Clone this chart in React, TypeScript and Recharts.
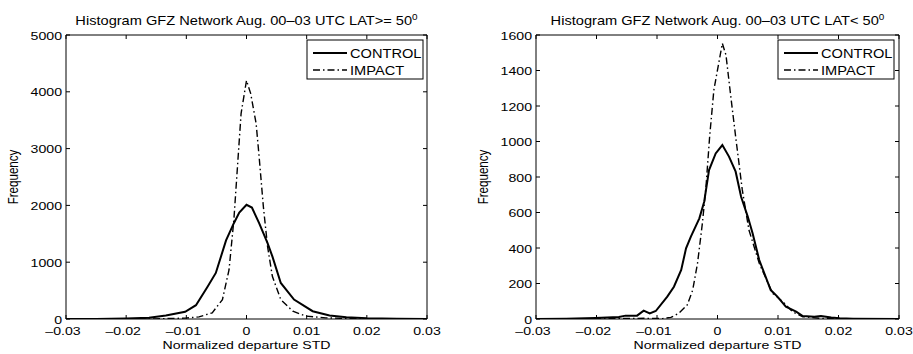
import React from 'react';
import { LineChart, Line, XAxis, YAxis, ReferenceArea } from 'recharts';

const FONT = '"Liberation Sans", Arial, Helvetica, sans-serif';

// ---- tick values / labels ----
const xTicks = [-0.03, -0.02, -0.01, 0, 0.01, 0.02, 0.03];
const xTickLabels = ['\u20130.03', '\u20130.02', '\u20130.01', '0', '0.01', '0.02', '0.03'];
const yTicksLeft = [0, 1000, 2000, 3000, 4000, 5000];
const yTicksRight = [0, 200, 400, 600, 800, 1000, 1200, 1400, 1600];

// ---- left panel (LAT >= 50) ----
const leftControlX = [-0.03, -0.025, -0.02, -0.0162, -0.0134, -0.0102, -0.0084, -0.0065, -0.0051, -0.0034, -0.0021, -0.0012, 0, 0.0009, 0.0021, 0.0035, 0.0043, 0.0057, 0.0079, 0.011, 0.0138, 0.0166, 0.02, 0.025, 0.03];
const leftControlY = [0, 2, 8, 20, 61, 126, 243, 564, 811, 1383, 1687, 1874, 2010, 1962, 1687, 1336, 1102, 635, 342, 137, 61, 32, 15, 4, 0];
const leftImpactX = [-0.03, -0.02, -0.015, -0.0102, -0.0079, -0.0057, -0.004, -0.0029, -0.0021, -0.0015, -0.0009, 0, 0.0007, 0.0016, 0.0021, 0.0028, 0.0035, 0.0043, 0.0057, 0.0077, 0.0099, 0.0132, 0.0166, 0.02, 0.03];
const leftImpactY = [0, 1, 3, 15, 38, 108, 342, 868, 1746, 2681, 3617, 4200, 3968, 3441, 2856, 1980, 1278, 751, 342, 137, 50, 20, 9, 3, 0];

// ---- right panel (LAT < 50) ----
const rightControlX = [-0.03, -0.025, -0.0202, -0.0163, -0.0152, -0.0133, -0.0122, -0.0112, -0.0102, -0.0083, -0.0072, -0.006, -0.0052, -0.0044, -0.003, -0.0022, -0.0014, -0.0003, 0.0008, 0.0019, 0.003, 0.0039, 0.005, 0.0058, 0.0069, 0.0088, 0.0099, 0.0113, 0.013, 0.0141, 0.016, 0.0171, 0.0188, 0.0202, 0.0224, 0.03];
const rightControlY = [0, 2, 6, 11, 19, 19, 47, 32, 45, 126, 182, 276, 398, 464, 567, 661, 839, 933, 980, 915, 830, 689, 577, 483, 332, 163, 126, 69, 41, 17, 13, 17, 9, 4, 2, 0];
const rightImpactX = [-0.03, -0.0119, -0.0091, -0.0077, -0.0064, -0.005, -0.0041, -0.0033, -0.0025, -0.0019, -0.0013, -0.0006, 0.0003, 0.0008, 0.0014, 0.0022, 0.003, 0.0041, 0.0052, 0.0069, 0.0091, 0.0108, 0.0124, 0.0141, 0.0169, 0.022, 0.03];
const rightImpactY = [0, 4, 2, 9, 32, 79, 163, 314, 539, 746, 1027, 1290, 1459, 1553, 1487, 1253, 1027, 727, 501, 314, 145, 98, 41, 13, 4, 0, 0];

const seriesNames = ['CONTROL', 'IMPACT'];
const titles = [
  'Histogram GFZ Network Aug. 00\u201303 UTC LAT>= 50',
  'Histogram GFZ Network Aug. 00\u201303 UTC LAT< 50',
];
const xLabel = 'Normalized departure STD';
const yLabel = 'Frequency';

const zip = (xs: number[], ys: number[]) => xs.map((x, i) => ({ x, y: ys[i] }));

const IMPACT_DASH = '7 3 1.5 3';

type STextProps = {
  x: number; y: number; anchor?: 'start' | 'middle' | 'end'; size: number; sx: number;
  rotate?: boolean; children: React.ReactNode; baseline?: string;
};
const SText = ({ x, y, anchor = 'middle', size, sx, rotate, children, baseline }: STextProps) => (
  <text
    transform={`translate(${x},${y}) scale(${sx},1)${rotate ? ' rotate(-90)' : ''}`}
    textAnchor={anchor}
    fontSize={size}
    fontFamily={FONT}
    fill="#000"
    dominantBaseline={baseline as any}
  >
    {children}
  </text>
);

const TICK_SIZE = 11.3;
const TICK_SX = 1.25;

type PanelProps = {
  left: number; width: number; L: number; R: number; T: number; B: number;
  control: { x: number; y: number }[]; impact: { x: number; y: number }[];
  yTicks: number[]; yMax: number;
};

const Panel = ({ left, width, L, R, T, B, control, impact, yTicks, yMax }: PanelProps) => {
  const height = 354;
  const plotRight = R - left;
  const xTick = (p: any) => {
    const { x, y, payload } = p;
    const i = xTicks.indexOf(payload.value);
    const lab = i >= 0 ? xTickLabels[i] : String(payload.value);
    const neg = payload.value < 0;
    return (
      <g>
        <line x1={x} y1={y} x2={x} y2={y - 4} stroke="#000" strokeWidth={1} />
        <line x1={x} y1={T} x2={x} y2={T + 4} stroke="#000" strokeWidth={1} />
        <SText x={x + (neg ? -3 : 0)} y={y + 16} size={TICK_SIZE} sx={TICK_SX}>{lab}</SText>
      </g>
    );
  };
  const yTick = (p: any) => {
    const { x, y, payload } = p;
    return (
      <g>
        <line x1={x} y1={y} x2={x + 4} y2={y} stroke="#000" strokeWidth={1} />
        <line x1={plotRight} y1={y} x2={plotRight - 4} y2={y} stroke="#000" strokeWidth={1} />
        <SText x={x - 4} y={y + 4.5} anchor="end" size={TICK_SIZE} sx={TICK_SX}>{String(payload.value)}</SText>
      </g>
    );
  };
  return (
    <div style={{ position: 'absolute', left, top: 0, width, height }}>
      <LineChart
        width={width}
        height={height}
        margin={{ top: T, right: left + width - R, bottom: 0, left: 0 }}
      >
        <XAxis
          dataKey="x"
          type="number"
          domain={[-0.03, 0.03]}
          ticks={xTicks}
          interval={0}
          allowDataOverflow
          axisLine={false}
          tickLine={false}
          tickSize={0}
          tickMargin={0}
          height={height - B}
          tick={xTick}
        />
        <YAxis
          type="number"
          domain={[0, yMax]}
          ticks={yTicks}
          interval={0}
          allowDataOverflow
          axisLine={false}
          tickLine={false}
          tickSize={0}
          tickMargin={0}
          width={L - left}
          tick={yTick}
        />
        <Line data={control} dataKey="y" type="linear" stroke="#000" strokeWidth={2} dot={false} isAnimationActive={false} name={seriesNames[0]} />
        <Line data={impact} dataKey="y" type="linear" stroke="#000" strokeWidth={1.4} strokeDasharray={IMPACT_DASH} dot={false} isAnimationActive={false} name={seriesNames[1]} />
        <ReferenceArea x1={-0.03} x2={0.03} y1={0} y2={yMax} fill="none" stroke="#000" strokeWidth={1} ifOverflow="visible" />
      </LineChart>
    </div>
  );
};

const Legend = ({ bx, by }: { bx: number; by: number }) => (
  <g>
    <rect x={bx} y={by} width={116} height={39} fill="#fff" stroke="#000" strokeWidth={1} />
    <line x1={bx + 6} y1={by + 13} x2={bx + 40} y2={by + 13} stroke="#000" strokeWidth={2} />
    <line x1={bx + 6} y1={by + 30} x2={bx + 40} y2={by + 30} stroke="#000" strokeWidth={1.4} strokeDasharray={IMPACT_DASH} />
    <SText x={bx + 43} y={by + 17.5} anchor="start" size={12.5} sx={1.17}>{seriesNames[0]}</SText>
    <SText x={bx + 43} y={by + 34.5} anchor="start" size={12.5} sx={1.17}>{seriesNames[1]}</SText>
  </g>
);

const Title = ({ cx, text }: { cx: number; text: string }) => (
  <text
    transform={`translate(${cx},25) scale(1.17,1)`}
    textAnchor="middle"
    fontSize={12.5}
    fontFamily={FONT}
    fill="#000"
  >
    <tspan>{text}</tspan>
    <tspan dy={-5} fontSize={8.5}>0</tspan>
  </text>
);

export default function App() {
  const leftControl = zip(leftControlX, leftControlY);
  const leftImpact = zip(leftImpactX, leftImpactY);
  const rightControl = zip(rightControlX, rightControlY);
  const rightImpact = zip(rightImpactX, rightImpactY);
  return (
    <div style={{ position: 'absolute', left: 0, top: 0, width: 913, height: 354, background: '#fff', overflow: 'hidden' }}>
      <Panel left={0} width={456} L={66} R={427} T={35} B={319} control={leftControl} impact={leftImpact} yTicks={yTicksLeft} yMax={5000} />
      <Panel left={456} width={457} L={536} R={899} T={35} B={319} control={rightControl} impact={rightImpact} yTicks={yTicksRight} yMax={1600} />
      <svg width={913} height={354} style={{ position: 'absolute', left: 0, top: 0, pointerEvents: 'none' }}>
        <Title cx={246.5} text={titles[0]} />
        <Title cx={717.5} text={titles[1]} />
        <SText x={246.5} y={349} size={11.3} sx={1.25}>{xLabel}</SText>
        <SText x={717.5} y={349} size={11.3} sx={1.25}>{xLabel}</SText>
        <SText x={17.5} y={177} size={11.6} sx={1.2} rotate>{yLabel}</SText>
        <SText x={487.5} y={177} size={11.6} sx={1.2} rotate>{yLabel}</SText>
        <Legend bx={307} by={40} />
        <Legend bx={778} by={40} />
      </svg>
    </div>
  );
}
